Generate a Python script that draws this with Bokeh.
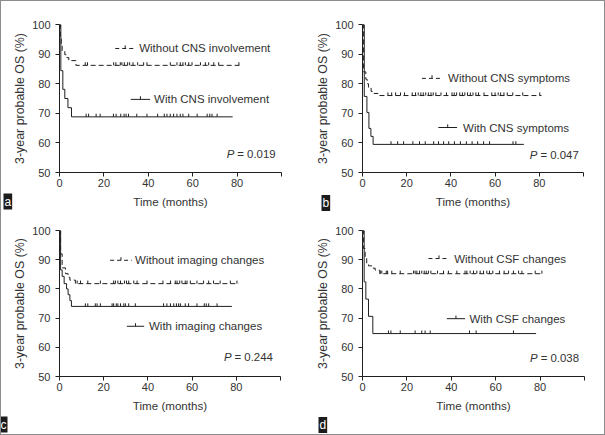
import numpy as np
from bokeh.plotting import figure
from bokeh.layouts import column, row
from bokeh.models import Range1d, FixedTicker, Title
from bokeh.core.properties import value
from bokeh.embed import file_html
from bokeh.resources import INLINE

FONT = "Liberation Sans"
INK = "#1f1f1f"
TXT = "#333333"

# ---------------- data ----------------
x_ticks = [0, 20, 40, 60, 80, 100]
y_ticks = [50, 60, 70, 80, 90, 100]
x_title = "Time (months)"
y_title = "3-year probable OS (%)"

# panel a : CNS involvement
a_wo_label = "Without CNS involvement"
a_wo_t = [0, 0.4, 0.8, 1.2, 2.4, 3.3, 4.2, 7.4]
a_wo_s = [100, 96.0, 93.5, 91.0, 89.8, 88.8, 87.8, 86.2]
a_wo_end = 81.0
a_wo_cens = [11.6, 12.6, 24.4, 25.4, 27.4, 28.1, 29.2, 30.7, 31.6, 33.1, 35.2, 37.9,
             39.4, 49.9, 52.9, 54.4, 55.6, 56.7, 58.2, 59.7, 63.5, 65.7, 67.2, 69.5,
             71.7, 80.8]
a_w_label = "With CNS involvement"
a_w_t = [0, 0.6, 1.5, 2.4, 3.8, 5.4]
a_w_s = [100, 84.4, 78.1, 75.0, 71.9, 68.8]
a_w_end = 78.0
a_w_cens = [12.0, 13.1, 16.5, 18.3, 24.3, 25.5, 27.6, 29.1, 30.0, 31.1, 34.8, 39.4,
            44.2, 47.2, 48.4, 49.9, 51.4, 52.9, 54.4, 55.6, 58.2, 62.0, 66.5, 67.7,
            68.7, 71.0]
a_p = "= 0.019"

# panel b : CNS symptoms
b_wo_label = "Without CNS symptoms"
b_wo_t = [0, 0.5, 1.5, 2.1, 2.7, 3.9, 5.2, 7.0]
b_wo_s = [100, 84.0, 81.5, 80.0, 78.6, 77.4, 76.7, 76.0]
b_wo_end = 81.0
b_wo_cens = [11.5, 13.2, 15.0, 17.2, 19.0, 22.5, 24.0, 25.2, 26.4, 27.5, 28.6, 29.8,
             31.0, 32.0, 33.2, 35.5, 38.0, 40.5, 41.5, 42.6, 44.0, 45.2, 46.3, 47.5,
             48.8, 50.0, 51.3, 52.5, 55.0, 58.5, 60.0, 61.4, 62.5, 64.0, 65.5, 68.0,
             72.5, 80.2]
b_w_label = "With CNS symptoms"
b_w_t = [0, 0.8, 2.0, 2.9, 3.8, 4.8]
b_w_s = [100, 75.7, 70.3, 64.9, 62.2, 59.5]
b_w_end = 73.0
b_w_cens = [12.9, 15.9, 18.6, 22.8, 25.8, 28.4, 32.2, 34.4, 36.7, 39.0, 41.6, 44.3,
            47.0, 49.6, 52.1, 54.8, 57.5, 68.1, 69.4]
b_p = "= 0.047"

# panel c : imaging changes
c_wo_label = "Without imaging changes"
c_wo_t = [0, 0.5, 1.2, 2.7, 3.9, 4.7, 7.2]
c_wo_s = [100, 92.0, 87.2, 85.2, 84.0, 83.0, 81.8]
c_wo_end = 81.0
c_wo_cens = [8.0, 9.5, 12.8, 18.5, 24.5, 25.3, 26.4, 27.6, 29.4, 30.3, 31.3, 33.6,
             35.1, 39.6, 46.8, 50.2, 52.4, 53.2, 54.4, 55.4, 56.9, 57.7, 59.2, 62.2,
             65.2, 67.5, 69.7, 72.7, 77.3, 80.3]
c_w_label = "With imaging changes"
c_w_t = [0, 0.5, 1.2, 2.1, 3.2, 3.9, 4.7, 5.4]
c_w_s = [100, 86.5, 84.3, 81.8, 80.0, 78.0, 76.0, 74.0]
c_w_end = 78.0
c_w_cens = [11.7, 12.8, 16.2, 17.0, 18.5, 23.8, 24.5, 25.7, 26.4, 27.6, 29.1, 29.8,
            31.3, 34.3, 47.1, 48.6, 50.2, 51.7, 52.9, 53.9, 54.7, 56.9, 58.4, 62.2,
            65.5, 66.4, 67.5, 71.3]
c_p = "= 0.244"

# panel d : CSF changes
d_wo_label = "Without CSF changes"
d_wo_t = [0, 0.5, 1.2, 1.9, 2.7, 4.2, 5.7, 7.8]
d_wo_s = [100, 93.8, 91.0, 88.8, 87.9, 87.1, 86.4, 85.2]
d_wo_end = 81.0
d_wo_cens = [8.0, 8.7, 10.7, 11.3, 13.2, 17.0, 23.0, 23.7, 24.5, 25.7, 26.7, 27.8,
             28.7, 29.7, 30.8, 33.8, 36.5, 38.7, 42.5, 46.2, 47.0, 48.5, 50.0, 51.5,
             53.0, 54.5, 56.0, 57.2, 58.7, 61.7, 63.8, 65.8, 68.0, 70.3, 71.8, 77.8,
             80.8]
d_w_label = "With CSF changes"
d_w_t = [0, 0.75, 1.5, 2.7, 4.65]
d_w_s = [100, 82.4, 76.5, 70.6, 64.7]
d_w_end = 78.2
d_w_cens = [11.7, 12.8, 17.0, 23.7, 26.7, 28.2, 30.5, 48.2, 51.2, 68.0]
d_p = "= 0.038"

# ---------------- layout (positions, not data) ----------------
# tag = (offset, standoff, vertical_align)
panels = [
    dict(tag="a", size=(299, 214), borders=(58, 19, 23, 43),
         wo=(a_wo_label, a_wo_t, a_wo_s, a_wo_end, a_wo_cens),
         w=(a_w_label, a_w_t, a_w_s, a_w_end, a_w_cens), p=a_p,
         wo_pos=(25.1, 34.1, 35.9, 91.9), w_pos=(32.1, 40.8, 42.6, 74.7),
         p_pos=(75.3, 56.3), tag_pos=(-56, -34, "top")),
    dict(tag="b", size=(304, 214), borders=(62, 21, 23, 43),
         wo=(b_wo_label, b_wo_t, b_wo_s, b_wo_end, b_wo_cens),
         w=(b_w_label, b_w_t, b_w_s, b_w_end, b_w_cens), p=b_p,
         wo_pos=(26.9, 36.0, 38.7, 81.8), w_pos=(34.3, 42.8, 45.5, 65.2),
         p_pos=(75.7, 56.0), tag_pos=(-41, -31, "top")),
    dict(tag="c", size=(299, 219), borders=(58, 20, 15, 56),
         wo=(c_wo_label, c_wo_t, c_wo_s, c_wo_end, c_wo_cens),
         w=(c_w_label, c_w_t, c_w_s, c_w_end, c_w_cens), p=c_p,
         wo_pos=(22.9, 32.7, 34.2, 89.8), w_pos=(30.5, 38.3, 40.5, 67.2),
         p_pos=(74.4, 56.7), tag_pos=(-60, 0, "bottom")),
    dict(tag="d", size=(304, 219), borders=(62, 20, 13, 58),
         wo=(d_wo_label, d_wo_t, d_wo_s, d_wo_end, d_wo_cens),
         w=(d_w_label, d_w_t, d_w_s, d_w_end, d_w_cens), p=d_p,
         wo_pos=(29.7, 39.2, 41.3, 90.4), w_pos=(38.0, 46.2, 48.2, 69.8),
         p_pos=(75.5, 56.2), tag_pos=(-44, 1, "bottom")),
]

TICK_H = 1.05  # censor tick height in y units (~3 px)
DASH = "5 3"


def curve(p, t, s, end, cens, dash):
    xs = list(t) + [end]
    ys = list(s) + [s[-1]]
    kw = dict(line_color=INK, line_width=1)
    if dash:
        kw["line_dash"] = DASH
    p.step(xs, ys, mode="after", **kw)
    tt = np.array(t)
    ss = np.array(s)
    c = np.array(cens)
    idx = np.searchsorted(tt, c, side="right") - 1
    yc = ss[idx]
    p.segment(x0=c, y0=yc, x1=c, y1=yc + TICK_H, line_color=INK, line_width=1)


def legend_item(p, label, pos, dash):
    x0, x1, xt, y = pos
    kw = dict(line_color=INK, line_width=1)
    if dash:
        kw["line_dash"] = "4 3"
    p.segment(x0=[x0], y0=[y], x1=[x1], y1=[y], **kw)
    xm = (x0 + x1) / 2
    p.segment(x0=[xm], y0=[y], x1=[xm], y1=[y + TICK_H], line_color=INK, line_width=1)
    p.text(x=[xt], y=[y], text=[label], text_font=value(FONT), text_font_size="11.5px",
           text_color=TXT, text_baseline="middle", text_align="left")


def make_panel(cfg):
    w, h = cfg["size"]
    bl, br, bt, bb = cfg["borders"]
    p = figure(width=w, height=h, output_backend="svg", toolbar_location=None,
               x_range=Range1d(0, 100), y_range=Range1d(50, 100),
               min_border_left=bl, min_border_right=br, min_border_top=bt,
               min_border_bottom=bb, background_fill_color="white",
               border_fill_color="white")
    p.outline_line_color = None
    p.xgrid.visible = False
    p.ygrid.visible = False
    p.xaxis.ticker = FixedTicker(ticks=x_ticks)
    p.xaxis.major_label_overrides = {100: ""}
    p.yaxis.ticker = FixedTicker(ticks=y_ticks)
    for ax in (p.xaxis[0], p.yaxis[0]):
        ax.axis_line_color = INK
        ax.major_tick_line_color = INK
        ax.major_tick_out = 4
        ax.major_tick_in = 0
        ax.minor_tick_out = 0
        ax.minor_tick_in = 0
        ax.major_label_text_font = FONT
        ax.major_label_text_font_size = "11px"
        ax.major_label_text_color = TXT
        ax.axis_label_text_font = FONT
        ax.axis_label_text_font_style = "normal"
        ax.axis_label_text_color = TXT
    p.xaxis.axis_label = x_title
    p.yaxis.axis_label = y_title
    p.xaxis.axis_label_text_font_size = "11.6px"
    p.yaxis.axis_label_text_font_size = "12.4px"
    p.xaxis.major_label_standoff = 2
    p.xaxis.axis_label_standoff = 5
    p.yaxis.major_label_standoff = 5
    p.yaxis.axis_label_standoff = 2

    lab, t, s, end, cens = cfg["wo"]
    curve(p, t, s, end, cens, True)
    legend_item(p, lab, cfg["wo_pos"], True)
    lab, t, s, end, cens = cfg["w"]
    curve(p, t, s, end, cens, False)
    legend_item(p, lab, cfg["w_pos"], False)

    px, py = cfg["p_pos"]
    p.text(x=[px], y=[py], text=["P"], text_font=value(FONT), text_font_size="11.4px",
           text_font_style="italic", text_color=TXT, text_baseline="middle",
           text_align="left")
    p.text(x=[px], y=[py], text=[cfg["p"]], text_font=value(FONT),
           text_font_size="11.4px", text_color=TXT, text_baseline="middle",
           text_align="left", x_offset=10.6)

    off, stand, valign = cfg["tag_pos"]
    p.add_layout(Title(text=cfg["tag"], align="left", offset=off, standoff=stand,
                       vertical_align=valign,
                       text_color="white", text_font=FONT, text_font_size="12px",
                       text_font_style="normal", background_fill_color="#1c1c1c",
                       padding=1), "below")
    return p


figs = [make_panel(c) for c in panels]
WHITE = {"background-color": "white"}
inner = column(row(figs[0], figs[1], spacing=0, styles=WHITE),
               row(figs[2], figs[3], spacing=0, styles=WHITE),
               spacing=0, styles=WHITE)
layout = column(inner, spacing=0,
                styles={"background-color": "#8c8c8c", "padding": "1px"})

open("out.html", "w").write(file_html(layout, INLINE))
